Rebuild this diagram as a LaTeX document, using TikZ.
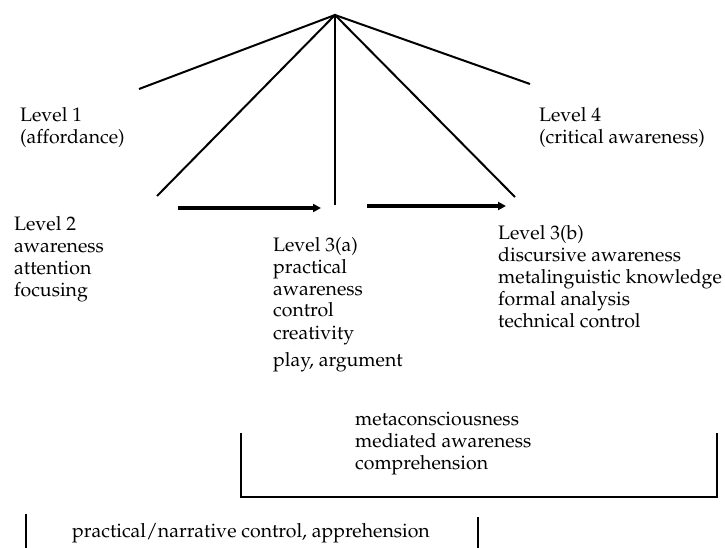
\documentclass[tikz,border=0pt]{standalone}
\usepackage[T1]{fontenc}
\usepackage{mathpazo}
\usetikzlibrary{arrows.meta}
\newcommand\blk[1]{\vtop{\baselineskip=22pt #1}}
\begin{document}
\begin{tikzpicture}[x=1pt,y=-1pt,
  thinline/.style={line width=2pt},
  flow/.style={line width=3.4pt,-{Triangle[length=8pt,width=8pt]}},
  brk/.style={line width=2.3pt},
  lbl/.style={anchor=base west,inner sep=0pt,font=\fontsize{19.5}{22}\selectfont}]
\useasboundingbox (0,0) rectangle (725,548);
% key points
\coordinate (apex) at (335,15);
\coordinate (l1) at (139,89);
\coordinate (l2) at (157,196);
\coordinate (vb) at (335,205);
\coordinate (r2) at (515,197);
\coordinate (r1) at (530,84);
\draw[thinline] (l1) -- (apex) -- (r1);
\draw[thinline] (l2) -- (apex) -- (r2);
\draw[thinline] (apex) -- (vb);
% arrows
\coordinate (a1s) at (178,208);
\coordinate (a1e) at (321,208);
\coordinate (a2s) at (367,206);
\coordinate (a2e) at (506,206);
\draw[flow] (a1s) -- (a1e);
\draw[flow] (a2s) -- (a2e);
% texts
\node[lbl] (lev1) at (20,122) {\blk{\hbox{Level 1}\hbox{(affordance)}}};
\node[lbl] (lev4) at (539,122) {\blk{\hbox{Level 4}\hbox{(critical awareness)}}};
\node[lbl] (lev2) at (14,230) {\blk{\hbox{Level 2}\hbox{awareness}\hbox{attention}\hbox{focusing}}};
\node[lbl] (lev3a) at (273,251) {\blk{\hbox{Level 3(a)}\hbox{practical}\hbox{awareness}\hbox{control}\hbox{creativity}\vskip 5pt\hbox{play, argument}}};
\node[lbl] (lev3b) at (498,239) {\blk{\hbox{Level 3(b)}\hbox{discursive awareness}\hbox{metalinguistic knowledge}\hbox{formal analysis}\hbox{technical control}}};
\node[lbl] (meta) at (355,425) {\blk{\hbox{metaconsciousness}\hbox{mediated awareness}\hbox{comprehension}}};
\node[lbl] (prac) at (72,537) {practical/narrative control, apprehension};
% brackets
\coordinate (b1) at (241,433);
\coordinate (b2) at (241,497);
\coordinate (b3) at (717,497);
\coordinate (b4) at (717,433);
\draw[brk] (b1) -- (b2) -- (b3) -- (b4);
\coordinate (c1) at (26,514);
\coordinate (c2) at (26,548);
\coordinate (c3) at (478,517);
\coordinate (c4) at (478,548);
\draw[brk] (c1) -- (c2);
\draw[brk] (c3) -- (c4);
\end{tikzpicture}
\end{document}
